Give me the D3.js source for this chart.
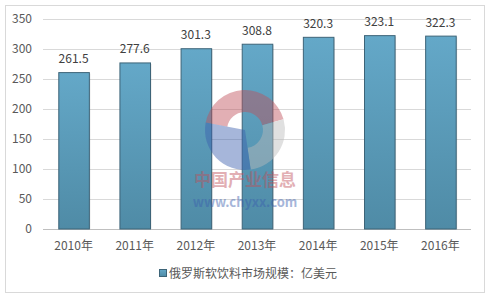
<!DOCTYPE html>
<html>
<head>
<meta charset="utf-8">
<script src="https://cdn.jsdelivr.net/npm/d3@7"></script>
<style>
  body { margin: 0; background: #fff; }
  svg text { font-family: "Noto Sans CJK SC", "DejaVu Sans", sans-serif; }
</style>
</head>
<body>
<svg width="490" height="298"></svg>
<script>
// data
var years = ["2010年", "2011年", "2012年", "2013年", "2014年", "2015年", "2016年"];
var values = [261.5, 277.6, 301.3, 308.8, 320.3, 323.1, 322.3];
var yTicks = [0, 50, 100, 150, 200, 250, 300, 350];
var seriesName = "俄罗斯软饮料市场规模：亿美元";

var svg = d3.select("svg");
var margin = {top: 19, right: 19, bottom: 69, left: 43};
var width = +svg.attr("width") - margin.left - margin.right,
    height = +svg.attr("height") - margin.top - margin.bottom;

// outer frame
svg.append("rect")
    .attr("x", 5.5).attr("y", 5.5)
    .attr("width", 479).attr("height", 287)
    .attr("fill", "#fff").attr("stroke", "#d9d9d9");

var defs = svg.append("defs");
var grad = defs.append("linearGradient").attr("id", "barGrad")
    .attr("x1", 0).attr("y1", 0).attr("x2", 0).attr("y2", 1);
grad.append("stop").attr("offset", "0%").attr("stop-color", "#64a8c8");
grad.append("stop").attr("offset", "100%").attr("stop-color", "#4f8ba6");

var x = d3.scaleBand().domain(years).range([0, width]).paddingInner(0.5).paddingOuter(0.25);
var y = d3.scaleLinear().domain([0, 350]).range([height, 0]);

var g = svg.append("g")
    .attr("transform", "translate(" + margin.left + "," + margin.top + ")");

// grid
g.selectAll(".grid")
    .data(yTicks)
    .enter().append("line")
    .attr("x1", 0).attr("x2", width)
    .attr("y1", function(d) { return Math.round(y(d)) + 0.5; })
    .attr("y2", function(d) { return Math.round(y(d)) + 0.5; })
    .attr("stroke", function(d) { return d === 0 ? "#bfbfbf" : "#d9d9d9"; });

// y labels
g.selectAll(".ylab")
    .data(yTicks)
    .enter().append("text")
    .attr("x", -11)
    .attr("y", function(d) { return y(d) + 4; })
    .attr("text-anchor", "end")
    .attr("font-size", 12)
    .attr("fill", "#595959")
    .text(function(d) { return d; });

// bars
var data = years.map(function(d, i) { return {year: d, value: values[i]}; });

g.selectAll(".shadow")
    .data(data)
    .enter().append("rect")
    .attr("x", function(d) { return x(d.year) + 1.5; })
    .attr("y", function(d) { return y(d.value) + 1.5; })
    .attr("width", x.bandwidth())
    .attr("height", function(d) { return height - y(d.value) - 1.5; })
    .attr("fill", "#000").attr("opacity", 0.12);

g.selectAll(".bar")
    .data(data)
    .enter().append("rect")
    .attr("class", "bar")
    .attr("x", function(d) { return x(d.year) + 0.5; })
    .attr("y", function(d) { return y(d.value) + 0.5; })
    .attr("width", x.bandwidth())
    .attr("height", function(d) { return height - y(d.value) - 0.5; })
    .attr("fill", "url(#barGrad)")
    .attr("stroke", "#3d6478")
    .attr("stroke-width", 1);

g.selectAll(".val")
    .data(data)
    .enter().append("text")
    .attr("x", function(d) { return x(d.year) + x.bandwidth() / 2; })
    .attr("y", function(d) { return y(d.value) - 9; })
    .attr("text-anchor", "middle")
    .attr("font-size", 12)
    .attr("fill", "#404040")
    .text(function(d) { return d.value.toFixed(1); });

// x labels
g.selectAll(".xlab")
    .data(years)
    .enter().append("text")
    .attr("x", function(d) { return x(d) + x.bandwidth() / 2; })
    .attr("y", height + 21)
    .attr("text-anchor", "middle")
    .attr("font-size", 12)
    .attr("fill", "#595959")
    .text(function(d) { return d; });

// watermark
var wm = svg.append("g").attr("transform", "translate(245,130)").attr("opacity", 0.45);
var arc = d3.arc();
wm.append("path").attr("d", arc({innerRadius: 18, outerRadius: 40, startAngle: -1.4, endAngle: 1.3}))
    .attr("fill", "#c0505a");
wm.append("path").attr("d", arc({innerRadius: 18, outerRadius: 40, startAngle: 1.3, endAngle: 3.0}))
    .attr("fill", "#bbbbbb");
wm.append("path").attr("d", arc({innerRadius: 0, outerRadius: 40, startAngle: 3.0, endAngle: 4.9}))
    .attr("fill", "#3b5fae");
wm.append("text").attr("x", 0).attr("y", 56)
    .attr("text-anchor", "middle").attr("font-size", 17).attr("font-weight", "bold")
    .attr("fill", "#c0505a").text("中国产业信息");
wm.append("text").attr("x", 0).attr("y", 77)
    .attr("text-anchor", "middle").attr("font-size", 13).attr("font-weight", "bold")
    .attr("font-family", "Liberation Sans, Arial, sans-serif")
    .attr("fill", "#3b5fae").text("www.chyxx.com");

// legend
var lg = svg.append("g").attr("transform", "translate(159,269)");
lg.append("rect").attr("x", 0.5).attr("y", 0.5).attr("width", 7).attr("height", 7)
    .attr("fill", "url(#barGrad)").attr("stroke", "#3d6478");
lg.append("text").attr("x", 10).attr("y", 9)
    .attr("font-size", 12).attr("fill", "#595959")
    .text(seriesName);
</script>
</body>
</html>
